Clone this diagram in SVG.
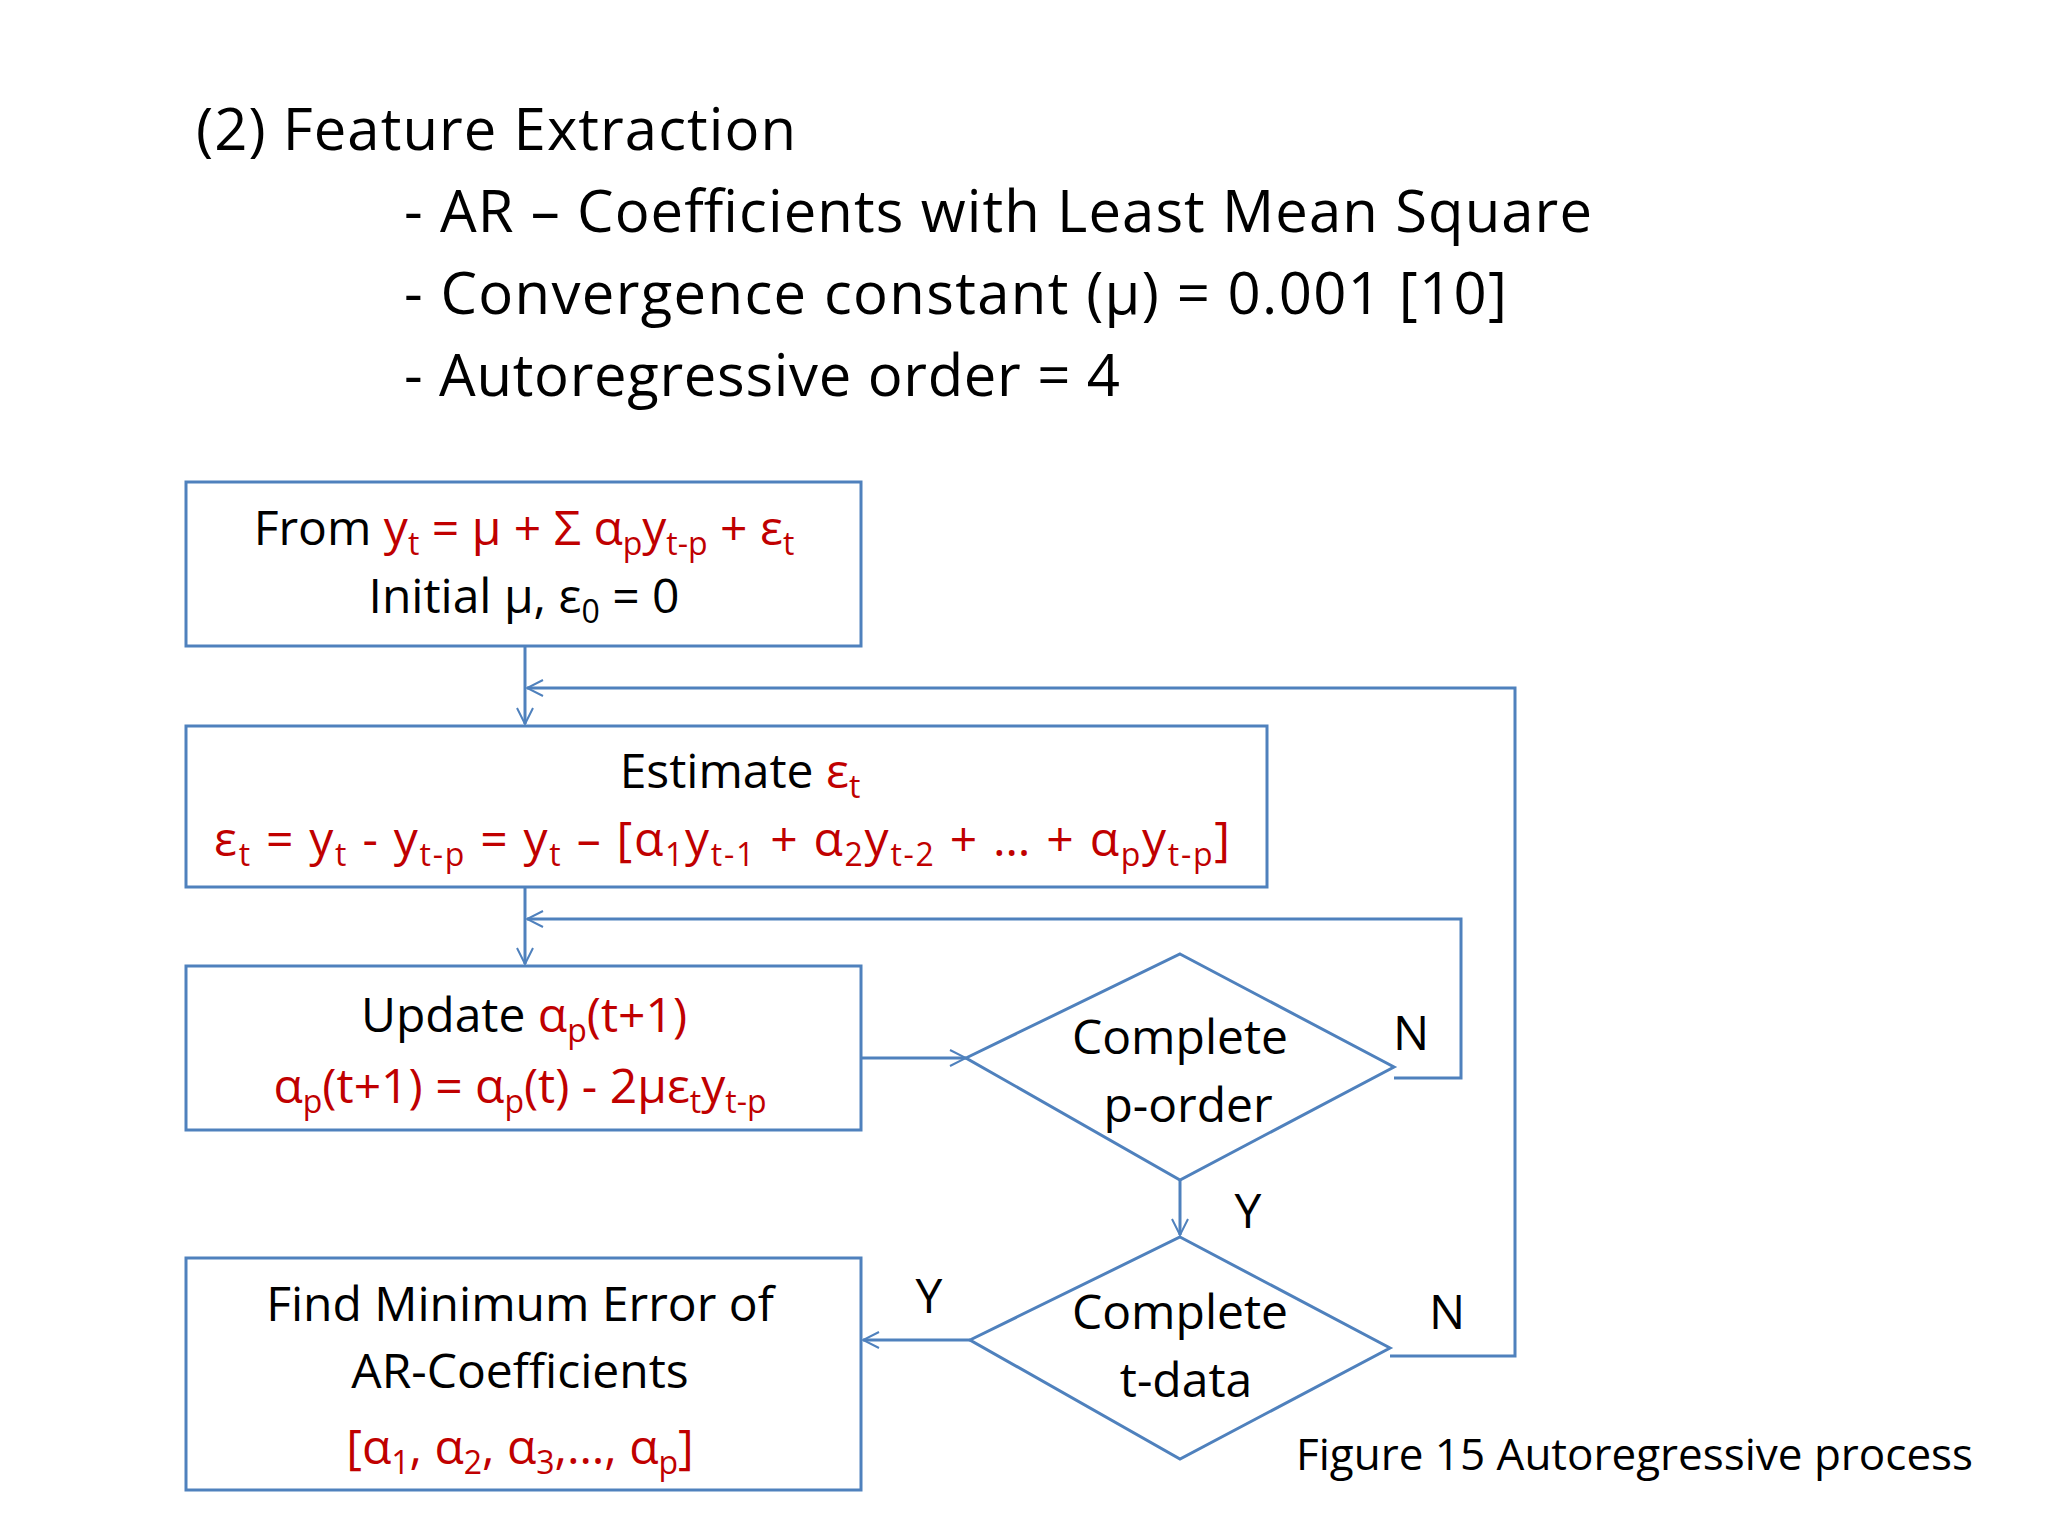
<svg xmlns="http://www.w3.org/2000/svg" width="2048" height="1536" viewBox="0 0 2048 1536" xml:space="preserve">
<style>
text{font-family:"Open Sans","Liberation Sans",sans-serif;}
.t{font-size:58px;fill:#000}
.b{font-size:48px;fill:#000}
.r{fill:#c00000}
.s{font-size:32px;baseline-shift:-10px}
.box{fill:#fff;stroke:#4f81bd;stroke-width:3}
.c{fill:none;stroke:#4f81bd;stroke-width:3}
.lab{font-size:48px;fill:#000;text-anchor:middle}
</style>
<defs><marker id="a" markerWidth="20" markerHeight="20" refX="18" refY="10" orient="auto" markerUnits="userSpaceOnUse"><path d="M2,2 L18,10 L2,18" fill="none" stroke="#4f81bd" stroke-width="2"/></marker></defs>
<rect width="2048" height="1536" fill="#fff"/>
<text class="t" x="196" y="150" textLength="600">(2) Feature Extraction</text>
<text class="t" x="404" y="232" textLength="1188">- AR – Coefficients with Least Mean Square</text>
<text class="t" x="404" y="314" textLength="1103">- Convergence constant  (μ) = 0.001 [10]</text>
<text class="t" x="404" y="396" textLength="716">- Autoregressive order = 4</text>
<g id="connectors">
<line class="c" x1="525" y1="646" x2="525" y2="724" marker-end="url(#a)"/>
<polyline class="c" points="1390,1356 1515,1356 1515,688 527,688" marker-end="url(#a)"/>
<line class="c" x1="525" y1="887" x2="525" y2="964" marker-end="url(#a)"/>
<polyline class="c" points="1394,1078 1461,1078 1461,919 527,919" marker-end="url(#a)"/>
<line class="c" x1="861" y1="1058" x2="966" y2="1058" marker-end="url(#a)"/>
<line class="c" x1="1180" y1="1180" x2="1180" y2="1235" marker-end="url(#a)"/>
<line class="c" x1="970" y1="1340" x2="863" y2="1340" marker-end="url(#a)"/>
<text class="lab" x="1411" y="1050">N</text>
<text class="lab" x="1248" y="1228">Y</text>
<text class="lab" x="929" y="1313">Y</text>
<text class="lab" x="1447" y="1329">N</text>
</g>
<g id="n1"><rect class="box" x="186" y="482" width="675" height="164"/>
<text class="b" x="524" y="545" text-anchor="middle">From  <tspan class="r">y<tspan class="s">t</tspan> = μ + Σ α<tspan class="s">p</tspan>y<tspan class="s">t-p</tspan> + ε<tspan class="s">t</tspan></tspan></text>
<text class="b" x="524" y="613" text-anchor="middle">Initial μ, ε<tspan class="s">0</tspan> = 0</text></g>
<g id="n2"><rect class="box" x="186" y="726" width="1081" height="161"/>
<text class="b" x="740" y="788" text-anchor="middle">Estimate  <tspan class="r">ε<tspan class="s">t</tspan></tspan></text>
<text class="b r" x="214" y="856" textLength="1016" lengthAdjust="spacing">ε<tspan class="s">t</tspan> = y<tspan class="s">t</tspan> - y<tspan class="s">t-p</tspan> = y<tspan class="s">t</tspan> – [α<tspan class="s">1</tspan>y<tspan class="s">t-1</tspan> + α<tspan class="s">2</tspan>y<tspan class="s">t-2</tspan> + … + α<tspan class="s">p</tspan>y<tspan class="s">t-p</tspan>]</text></g>
<g id="n3"><rect class="box" x="186" y="966" width="675" height="164"/>
<text class="b" x="524" y="1032" text-anchor="middle">Update  <tspan class="r">α<tspan class="s">p</tspan>(t+1)</tspan></text>
<text class="b r" x="520" y="1103" text-anchor="middle">α<tspan class="s">p</tspan>(t+1)   =   α<tspan class="s">p</tspan>(t) - 2με<tspan class="s">t</tspan>y<tspan class="s">t-p</tspan></text></g>
<g id="n4"><rect class="box" x="186" y="1258" width="675" height="232"/>
<text class="b" x="520" y="1321" text-anchor="middle">Find Minimum Error of</text>
<text class="b" x="520" y="1388" text-anchor="middle">AR-Coefficients</text>
<text class="b r" x="520" y="1464" text-anchor="middle">[α<tspan class="s">1</tspan>, α<tspan class="s">2</tspan>, α<tspan class="s">3</tspan>,…, α<tspan class="s">p</tspan>]</text></g>
<g id="d1"><polygon class="box" points="1180,954 1394,1067 1180,1180 966,1058"/>
<text class="lab" x="1180" y="1054">Complete</text><text class="lab" x="1188" y="1122">p-order</text></g>
<g id="d2"><polygon class="box" points="1180,1237 1390,1348 1180,1459 970,1340"/>
<text class="lab" x="1180" y="1329">Complete</text><text class="lab" x="1186" y="1397">t-data</text></g>
<text x="1296" y="1470" style="font-size:44px" fill="#000">Figure 15  Autoregressive process</text>
</svg>
